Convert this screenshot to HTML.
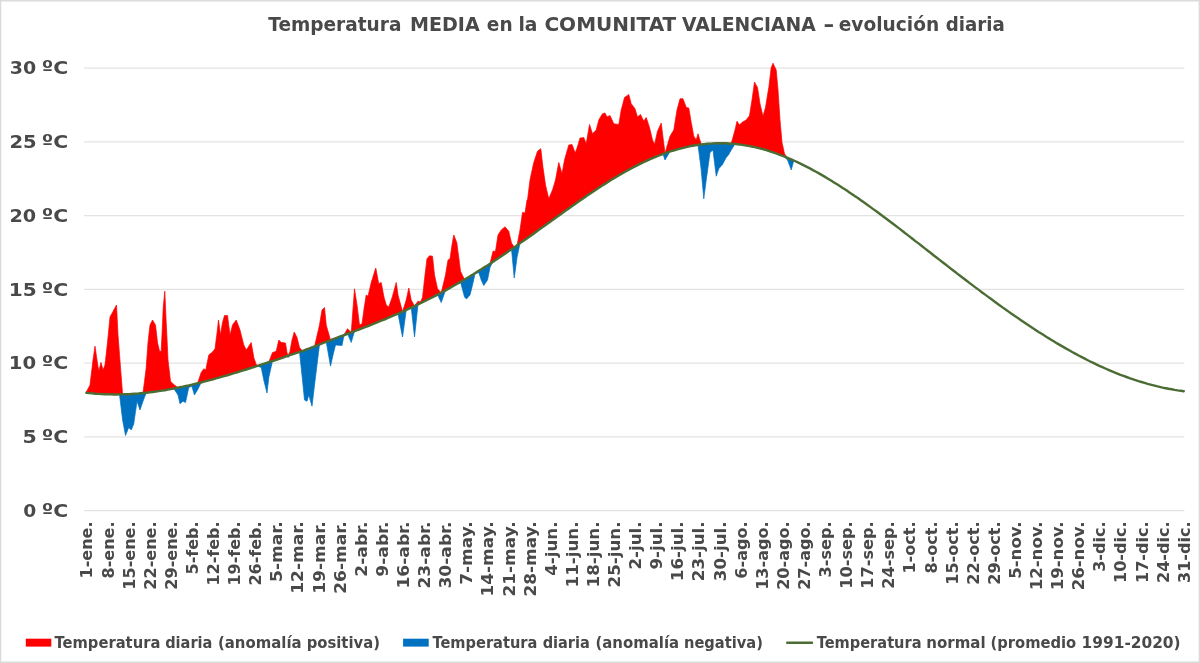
<!DOCTYPE html>
<html lang="es"><head><meta charset="utf-8"><title>Temperatura MEDIA en la COMUNITAT VALENCIANA</title>
<style>
html,body{margin:0;padding:0;background:#fff;}
body{width:1200px;height:663px;overflow:hidden;}
svg{display:block;}
text{font-family:"DejaVu Sans","Liberation Sans",sans-serif;font-weight:bold;fill:#494949;}
</style></head><body>
<svg width="1200" height="663" viewBox="0 0 1200 663">
<rect x="0" y="0" width="1200" height="663" fill="#fff"/>

<line x1="84.2" x2="1184.4" y1="68.1" y2="68.1" stroke="#e3e3e3" stroke-width="1.1"/>
<line x1="84.2" x2="1184.4" y1="141.9" y2="141.9" stroke="#e3e3e3" stroke-width="1.1"/>
<line x1="84.2" x2="1184.4" y1="215.6" y2="215.6" stroke="#e3e3e3" stroke-width="1.1"/>
<line x1="84.2" x2="1184.4" y1="289.4" y2="289.4" stroke="#e3e3e3" stroke-width="1.1"/>
<line x1="84.2" x2="1184.4" y1="363.1" y2="363.1" stroke="#e3e3e3" stroke-width="1.1"/>
<line x1="84.2" x2="1184.4" y1="436.9" y2="436.9" stroke="#e3e3e3" stroke-width="1.1"/>
<line x1="84.2" x2="1184.4" y1="510.6" y2="510.6" stroke="#e3e3e3" stroke-width="1.1"/>
<path d="M86,392.5 87.5,389.7 89,386.9 90,385 90.5,380.8 92,368.3 93,360 93.5,356.6 95,346.2 96.5,356.6 97,360 98,366.4 98.8,371.2 99.5,368.3 101,362.5 102.5,368.1 103,370 104,367.5 105,365 105.5,360.5 107,347 107.5,342.5 108.5,332.3 110,317 111.5,314.2 113,311.4 113.8,310 114.5,308.6 116,305.9 116.5,305 117.5,325 118,335 119,348 119.5,354.5 120.5,367.4 122,386.7 122.6,394.4 123.5,394.4 125,394.3 125.5,394.3 126.5,394.2 128,394.2 128.8,394.1 129.5,394.1 131,394 131.2,394 132.5,393.9 133.8,393.9 134,393.8 135.5,393.7 137,393.6 138.5,393.5 140,393.4 141.5,393.2 143,393.1 144.5,381.3 146,369.5 146.2,367.5 147.5,349.6 148,342.5 149,333.8 150,325 150.5,324 152,321 152.5,320 153.5,321.7 155,324.2 155.5,325 156.5,333.8 157.5,342.5 158,344.7 159.5,351.2 161,351.3 161.2,351.2 162.5,323.9 163.2,307.5 164,299.4 164.8,291.2 165.5,306.9 166.2,322.5 167,338.6 168,360 168.5,364.3 170,377 170.5,381.2 171.5,382.3 173,383.8 173.8,384.5 174.5,385.1 176,386.2 177.5,387.3 178,387.7 179,387.5 180,387.3 180.5,387.2 182,386.9 183,386.7 183.5,386.6 185,386.2 185.5,386.1 186.5,385.9 188,385.6 188.8,385.4 189.5,385.2 191,384.9 191.8,384.7 192.5,384.5 194,384.2 194.5,384 195.5,383.8 197,383.4 197.5,383.3 198.5,380.4 200,376.1 201.2,372.5 201.5,372.1 203,369.9 203.8,368.8 204.5,369.2 205.8,370 206,368.8 207.5,361.3 208.8,355 209,354.8 210.5,353.6 212,352.4 212.5,352 213.5,350.7 215,348.8 216.5,337 216.8,335 218,324.3 218.5,320 219.5,327.5 220.5,335 221,331.9 222.5,322.5 224,317.3 224.5,315.5 225.5,315.5 227,315.5 227.5,315.5 228.5,323.3 230,335 231.5,329 232.5,325 233,324.3 234.5,322.3 236,320.3 236.2,320 237.5,323.3 239,327.3 240,330 240.5,332 242,338 243.5,344 243.8,345 245,347.5 246.2,350 246.5,349.6 248,347.4 249.5,345.1 251,342.9 251.2,342.5 252.5,350 253.8,357.5 254,358.2 255.5,362.4 256.2,364.5 257,365 258,365.7 258.5,365.6 260,365.1 261.2,364.7 261.5,364.6 263,364.1 263.8,363.9 264.5,363.6 266,363.2 267,362.8 267.5,362.7 268.8,362.3 269,361.6 270.5,357.7 272,353.8 272.5,352.5 273.5,352.2 275,351.7 276.2,351.2 276.5,350.1 278,343.4 278.8,340 279.5,340.8 281,342.3 281.2,342.5 282.5,342.6 284,342.8 285.5,343 287,352.5 288,355.9 288.5,354.7 290,351.2 291.5,342.8 292,340 293,336.4 294.2,332 294.5,332.5 296,335.5 297,337.5 297.5,339.5 299,345.5 299.5,347.5 300.5,348.6 302,350.4 302.5,350.9 303.5,350.6 304.5,350.2 305,350 306.5,349.5 307,349.3 308,348.9 308.8,348.7 309.5,348.4 311,347.8 312,347.4 312.5,347.2 314,346.7 314.5,346.5 315.5,342.2 317,335.7 318.5,329.3 319.5,325 320,322 321.5,313 322,310 323,309 324.5,307.5 326,322.5 326.2,325 327.5,329.5 329,334.8 330.5,340.2 332,339.6 333,339.2 333.5,339 335,338.4 335.5,338.2 336.5,337.9 338,337.3 339.5,336.8 341,336.2 342,335.9 342.5,335.7 343.8,335.2 344,334.8 345.5,332.2 347,329.6 347.5,328.8 348.5,329.7 350,331.2 351.2,332.4 351.5,329.1 353,308.9 354.5,288.8 356,298.5 357,305 357.5,309 359,321 359.5,325 360.5,324.5 362,323.8 363.5,312.9 364.2,307.5 365,302.8 366.2,295 366.5,295.2 368,296.2 369.5,289.9 371,283.6 371.2,282.5 372.5,278.5 374,273.6 375.5,268.8 375.8,268 377,274.6 378.5,282.4 378.8,283.8 380,283.1 381.2,282.5 381.5,283.9 383,292.1 383.8,296.2 384.5,298.9 386,304.1 386.2,305 387.5,306 388.8,307 389,306.3 390.5,302 392,297.7 392.5,296.2 393.5,292.6 395,287.1 396.2,282.5 396.5,284.3 398,295 399.5,300.6 401,306.1 402.5,311.7 404,307 405.5,302.3 406.2,300 407,296.4 408.5,289.2 408.8,288 410,294 411.2,300 411.5,300.5 413,303.3 414.5,306.1 416,304 417.5,301.9 418,301.2 419,301.6 420.5,302 422,298.6 422.5,297.5 423.5,288.5 425,275 426.5,262.8 427,258.8 428,257.6 429.5,255.8 431,256 432.5,256.2 434,270.3 434.5,275 435.5,279.6 437,286.5 437.5,288.8 438.5,289.8 440,291.4 441.2,292.7 441.5,291.6 443,285.4 444.5,279.2 445.5,275 446,272 447.5,263 448,260 449,259.4 450,258.8 450.5,255.3 452,245 453.5,236.4 453.8,235 455,238.1 456.5,241.9 456.8,242.5 458,251.9 458.8,257.5 459.5,263.4 460.5,271.2 461,272.3 462.5,275.4 464,278.5 464.5,279.6 465.5,279 466.5,278.4 467,278.1 468.5,277.2 470,276.3 471.5,275.4 472.5,274.7 473,274.4 474.5,273.5 475,273.2 476,272.6 477.5,271.7 478.8,270.9 479,270.7 480.5,269.8 481.2,269.3 482,268.8 483.5,267.9 483.8,267.7 485,266.9 486.5,265.9 487.5,265.3 488,265 489.5,264 490,263.7 491,259.5 492.5,253.3 493,251.2 494,251.3 495.5,251.2 497,241.5 498,235 498.5,234.2 500,231.9 501.2,230 501.5,229.8 503,228.5 504.5,227.2 505,226.8 506,228 507.5,229.8 508.8,231.2 509,232.3 510.5,238.7 511.5,243 512,243.8 513.5,246.1 514.2,247.3 515,246.8 516.5,245.8 517,245.4 518,240.3 519.5,232.6 520,230 521,223 522.5,212.5 524,212.8 525,213 525.5,209.8 527,200 527.5,200 528.5,192 530,180 531.5,173 533,166 533.8,162.5 534.5,160.3 536,155.8 537.5,151.2 539,150.1 540.5,148.9 540.8,148.8 542,159.2 543,167.5 543.5,171 545,181.5 545.5,185 546.5,189.2 548,195.6 548.8,198.8 549.5,197 551,193.5 552.5,190 554,185 555.5,180 557,171.9 558.5,163.8 558.8,162.5 560,166.8 561.5,172 562,173.8 563,168.2 564.5,160 566,154.7 567.5,149.4 568.8,145 569,145 570.5,144.7 572,144.5 573.5,148.4 575,152.3 575.2,153 576.5,149.4 578,145 579.5,139.7 580,138 581,137.9 582.5,137.7 583.8,137.5 584,138.1 585.5,141.9 586.2,143.8 587,139.3 588.5,130.4 589.5,124.5 590,126 591.5,130.7 592.5,133.8 593,133.2 594.5,131.7 596,130.2 596.2,130 597.5,125 598.8,120 599,119.6 600.5,117.1 602,114.6 602.5,113.8 603.5,113.4 605,113 606.5,116 607,117 608,116.5 609.5,115.7 610,115.5 611,117.7 612.5,121 613.8,123.8 614,123.8 615.5,124 617,124.2 618.5,124.5 618.8,124.5 620,117.2 621.2,110 621.5,109 623,103.3 624.5,97.5 626,96.4 627.5,95.4 628.8,94.5 629,95.4 630.5,101 631.2,103.8 632,104.7 633.5,106.7 635,108.8 636.5,113.7 637.5,117 638,116.6 639.5,115.3 640.5,114.5 641,115.5 642.5,118.6 643.8,121.2 644,120.9 645.5,118.6 646.2,117.5 647,119.8 648.5,124.4 649.5,127.5 650,129.6 651.5,135.8 652.5,140 653,141.1 654.5,144.5 656,137.9 657.5,131.2 659,127.9 660.5,124.6 661.2,123 662,129.2 663,137.5 663.5,141.4 665,153.3 666.5,148.2 668,143.1 669.5,137.9 670,136.2 671,134.6 672.5,132.1 673.8,130 674,128.5 675.5,119.2 677,110 678.5,104.4 680,98.8 681.5,98.7 683,98.8 684.5,102.8 686,106.8 686.2,107.5 687.5,107.7 688.8,108 689,109.4 690.5,118.1 691.2,122.5 692,126.6 693.5,134.9 693.8,136.2 695,138.1 696.2,140 696.5,139.1 698,133.8 699.5,138.7 701,143.6 701.2,144.5 702.5,144.3 703.8,144.2 704,144.1 705.5,144 706.2,143.9 707,143.8 708.5,143.7 710,143.6 711.5,143.5 713,143.4 714.5,143.4 716,143.3 716.2,143.3 717.5,143.3 718.8,143.2 719,143.2 720.5,143.2 722,143.3 722.5,143.3 723.5,143.3 725,143.3 726.2,143.4 726.5,143.4 728,143.4 728.8,143.5 729.5,143.5 731,143.6 731.2,143.6 732.5,139.1 734,133.6 735,130 735.5,127.8 737,121.2 738.5,123.5 739.5,125 740,124.5 741.5,123 742.5,122 743,121.7 744.5,120.9 746,120.1 746.2,120 747.5,118.3 749,116.2 749.5,115.5 750.5,109.3 752,100 753.5,89.2 754.5,82 755,82.9 756.5,85.7 757.5,87.5 758,90.7 759.5,100.5 760,103.8 761,107.9 762.5,114.2 763,116.2 764,112.7 765.5,107.5 767,98.3 768.5,89 768.8,87.5 770,77.5 771.2,67.5 771.5,66.9 773,63.2 774.5,66.4 776,69.5 776.2,70 777.5,84.3 778,90 779,105 780,120 780.5,125.6 782,142.5 783.5,149.2 784.5,153.8 785,154.4 786.5,156.5 787.5,157.8 788,158 789.5,158.7 791,159.3 791.2,159.4 792.5,159.7 793.8,160 L793.8,160.5 792.5,160 791.2,159.4 791,159.3 789.5,158.7 788,158 787.5,157.8 786.5,157.4 785,156.8 784.5,156.6 783.5,156.2 782,155.6 780.5,155 780,154.8 779,154.5 778,154.1 777.5,153.9 776.2,153.5 776,153.4 774.5,152.9 773,152.3 771.5,151.8 771.2,151.8 770,151.4 768.8,151 768.5,150.9 767,150.4 765.5,150 764,149.5 763,149.3 762.5,149.1 761,148.7 760,148.5 759.5,148.3 758,148 757.5,147.8 756.5,147.6 755,147.2 754.5,147.1 753.5,146.9 752,146.6 750.5,146.3 749.5,146.1 749,146 747.5,145.7 746.2,145.5 746,145.5 744.5,145.2 743,145 742.5,144.9 741.5,144.8 740,144.5 739.5,144.5 738.5,144.4 737,144.2 735.5,144 735,144 734,143.9 732.5,143.7 731.2,143.6 731,143.6 729.5,143.5 728.8,143.5 728,143.4 726.5,143.4 726.2,143.4 725,143.3 723.5,143.3 722.5,143.3 722,143.3 720.5,143.2 719,143.2 718.8,143.2 717.5,143.3 716.2,143.3 716,143.3 714.5,143.4 713,143.4 711.5,143.5 710,143.6 708.5,143.7 707,143.8 706.2,143.9 705.5,144 704,144.1 703.8,144.2 702.5,144.3 701.2,144.5 701,144.5 699.5,144.7 698,144.9 696.5,145.1 696.2,145.2 695,145.4 693.8,145.6 693.5,145.6 692,145.9 691.2,146.1 690.5,146.2 689,146.5 688.8,146.6 687.5,146.8 686.2,147.1 686,147.2 684.5,147.5 683,147.9 681.5,148.2 680,148.6 678.5,149 677,149.5 675.5,149.9 674,150.3 673.8,150.4 672.5,150.8 671,151.3 670,151.6 669.5,151.8 668,152.3 666.5,152.8 665,153.3 663.5,153.8 663,154 662,154.4 661.2,154.7 660.5,155 659,155.6 657.5,156.1 656,156.8 654.5,157.4 653,158 652.5,158.2 651.5,158.6 650,159.3 649.5,159.5 648.5,160 647,160.6 646.2,161 645.5,161.3 644,162 643.8,162.2 642.5,162.8 641,163.5 640.5,163.7 639.5,164.2 638,165 637.5,165.2 636.5,165.7 635,166.5 633.5,167.3 632,168.1 631.2,168.5 630.5,168.9 629,169.7 628.8,169.8 627.5,170.5 626,171.3 624.5,172.2 623,173 621.5,173.9 621.2,174 620,174.7 618.8,175.5 618.5,175.6 617,176.5 615.5,177.4 614,178.3 613.8,178.4 612.5,179.2 611,180.1 610,180.7 609.5,181 608,182 607,182.6 606.5,182.9 605,183.8 603.5,184.8 602.5,185.4 602,185.8 600.5,186.7 599,187.7 598.8,187.9 597.5,188.7 596.2,189.5 596,189.7 594.5,190.7 593,191.7 592.5,192 591.5,192.7 590,193.7 589.5,194 588.5,194.7 587,195.7 586.2,196.2 585.5,196.7 584,197.7 583.8,197.9 582.5,198.8 581,199.8 580,200.5 579.5,200.9 578,201.9 576.5,202.9 575.2,203.8 575,204 573.5,205.1 572,206.1 570.5,207.2 569,208.2 568.8,208.4 567.5,209.3 566,210.4 564.5,211.4 563,212.5 562,213.2 561.5,213.6 560,214.7 558.8,215.6 558.5,215.7 557,216.8 555.5,217.9 554,219 552.5,220 551,221.1 549.5,222.2 548.8,222.7 548,223.3 546.5,224.4 545.5,225.1 545,225.5 543.5,226.5 543,226.9 542,227.6 540.8,228.5 540.5,228.7 539,229.8 537.5,230.8 536,231.9 534.5,233 533.8,233.5 533,234.1 531.5,235.1 530,236.2 528.5,237.3 527.5,238 527,238.4 525.5,239.4 525,239.8 524,240.5 522.5,241.5 521,242.6 520,243.3 519.5,243.6 518,244.7 517,245.4 516.5,245.8 515,246.8 514.2,247.3 513.5,247.8 512,248.9 511.5,249.2 510.5,249.9 509,250.9 508.8,251.1 507.5,252 506,253 505,253.7 504.5,254 503,255 501.5,256.1 501.2,256.2 500,257.1 498.5,258.1 498,258.4 497,259.1 495.5,260.1 494,261.1 493,261.7 492.5,262 491,263 490,263.7 489.5,264 488,265 487.5,265.3 486.5,265.9 485,266.9 483.8,267.7 483.5,267.9 482,268.8 481.2,269.3 480.5,269.8 479,270.7 478.8,270.9 477.5,271.7 476,272.6 475,273.2 474.5,273.5 473,274.4 472.5,274.7 471.5,275.4 470,276.3 468.5,277.2 467,278.1 466.5,278.4 465.5,279 464.5,279.6 464,279.9 462.5,280.7 461,281.6 460.5,281.9 459.5,282.5 458.8,282.9 458,283.4 456.8,284.1 456.5,284.2 455,285.1 453.8,285.8 453.5,285.9 452,286.8 450.5,287.6 450,287.9 449,288.5 448,289 447.5,289.3 446,290.1 445.5,290.4 444.5,290.9 443,291.7 441.5,292.5 441.2,292.7 440,293.3 438.5,294.1 437.5,294.7 437,294.9 435.5,295.7 434.5,296.2 434,296.5 432.5,297.3 431,298 429.5,298.8 428,299.6 427,300.1 426.5,300.3 425,301.1 423.5,301.8 422.5,302.3 422,302.5 420.5,303.3 419,304 418,304.5 417.5,304.7 416,305.4 414.5,306.1 413,306.8 411.5,307.5 411.2,307.7 410,308.2 408.8,308.8 408.5,308.9 407,309.6 406.2,310 405.5,310.3 404,311 402.5,311.7 401,312.3 399.5,313 398,313.7 396.5,314.3 396.2,314.4 395,315 393.5,315.6 392.5,316 392,316.3 390.5,316.9 389,317.5 388.8,317.6 387.5,318.2 386.2,318.7 386,318.8 384.5,319.4 383.8,319.7 383,320 381.5,320.7 381.2,320.8 380,321.3 378.8,321.8 378.5,321.9 377,322.5 375.8,323 375.5,323.1 374,323.7 372.5,324.3 371.2,324.8 371,324.9 369.5,325.5 368,326.1 366.5,326.6 366.2,326.7 365,327.2 364.2,327.5 363.5,327.8 362,328.4 360.5,329 359.5,329.3 359,329.5 357.5,330.1 357,330.3 356,330.7 354.5,331.2 353,331.8 351.5,332.4 351.2,332.4 350,332.9 348.5,333.5 347.5,333.8 347,334 345.5,334.6 344,335.1 343.8,335.2 342.5,335.7 342,335.9 341,336.2 339.5,336.8 338,337.3 336.5,337.9 335.5,338.2 335,338.4 333.5,339 333,339.2 332,339.6 330.5,340.2 329,340.7 327.5,341.3 326.2,341.8 326,341.9 324.5,342.5 323,343.1 322,343.5 321.5,343.7 320,344.3 319.5,344.5 318.5,344.9 317,345.5 315.5,346.1 314.5,346.5 314,346.7 312.5,347.2 312,347.4 311,347.8 309.5,348.4 308.8,348.7 308,348.9 307,349.3 306.5,349.5 305,350 304.5,350.2 303.5,350.6 302.5,350.9 302,351.1 300.5,351.6 299.5,352 299,352.1 297.5,352.7 297,352.8 296,353.2 294.5,353.7 294.2,353.8 293,354.2 292,354.5 291.5,354.7 290,355.2 288.5,355.7 288,355.9 287,356.2 285.5,356.7 284,357.2 282.5,357.7 281.2,358.1 281,358.2 279.5,358.7 278.8,359 278,359.2 276.5,359.7 276.2,359.8 275,360.2 273.5,360.7 272.5,361 272,361.2 270.5,361.7 269,362.2 268.8,362.3 267.5,362.7 267,362.8 266,363.2 264.5,363.6 263.8,363.9 263,364.1 261.5,364.6 261.2,364.7 260,365.1 258.5,365.6 258,365.7 257,366.1 256.2,366.3 255.5,366.5 254,367 253.8,367.1 252.5,367.5 251.2,367.9 251,368 249.5,368.4 248,368.9 246.5,369.4 246.2,369.5 245,369.9 243.8,370.2 243.5,370.3 242,370.8 240.5,371.3 240,371.4 239,371.7 237.5,372.2 236.2,372.6 236,372.6 234.5,373.1 233,373.5 232.5,373.7 231.5,374 230,374.4 228.5,374.9 227.5,375.2 227,375.3 225.5,375.7 224.5,376 224,376.2 222.5,376.6 221,377 220.5,377.2 219.5,377.5 218.5,377.8 218,377.9 216.8,378.2 216.5,378.3 215,378.7 213.5,379.1 212.5,379.4 212,379.6 210.5,380 209,380.4 208.8,380.4 207.5,380.8 206,381.2 205.8,381.2 204.5,381.5 203.8,381.7 203,381.9 201.5,382.3 201.2,382.4 200,382.7 198.5,383.1 197.5,383.3 197,383.4 195.5,383.8 194.5,384 194,384.2 192.5,384.5 191.8,384.7 191,384.9 189.5,385.2 188.8,385.4 188,385.6 186.5,385.9 185.5,386.1 185,386.2 183.5,386.6 183,386.7 182,386.9 180.5,387.2 180,387.3 179,387.5 178,387.7 177.5,387.8 176,388.1 174.5,388.4 173.8,388.5 173,388.7 171.5,389 170.5,389.2 170,389.2 168.5,389.5 168,389.6 167,389.8 166.2,389.9 165.5,390 164.8,390.2 164,390.3 163.2,390.4 162.5,390.5 161.2,390.7 161,390.8 159.5,391 158,391.2 157.5,391.3 156.5,391.4 155.5,391.6 155,391.7 153.5,391.9 152.5,392 152,392.1 150.5,392.2 150,392.3 149,392.4 148,392.5 147.5,392.6 146.2,392.7 146,392.8 144.5,392.9 143,393.1 141.5,393.2 140,393.4 138.5,393.5 137,393.6 135.5,393.7 134,393.8 133.8,393.9 132.5,393.9 131.2,394 131,394 129.5,394.1 128.8,394.1 128,394.2 126.5,394.2 125.5,394.3 125,394.3 123.5,394.4 122.6,394.4 122,394.4 120.5,394.4 119.5,394.4 119,394.4 118,394.5 117.5,394.5 116.5,394.5 116,394.5 114.5,394.5 113.8,394.5 113,394.5 111.5,394.4 110,394.4 108.5,394.4 107.5,394.3 107,394.3 105.5,394.3 105,394.3 104,394.2 103,394.2 102.5,394.1 101,394.1 99.5,394 98.8,393.9 98,393.9 97,393.8 96.5,393.8 95,393.6 93.5,393.5 93,393.5 92,393.4 90.5,393.2 90,393.2 89,393.1 87.5,392.9 86,392.7Z" fill="#ff0000" stroke="#ff0000" stroke-width="0.7" stroke-linejoin="miter" stroke-miterlimit="8"/>
<path d="M86,392.7 87.5,392.9 89,393.1 90,393.2 90.5,393.2 92,393.4 93,393.5 93.5,393.5 95,393.6 96.5,393.8 97,393.8 98,393.9 98.8,393.9 99.5,394 101,394.1 102.5,394.1 103,394.2 104,394.2 105,394.3 105.5,394.3 107,394.3 107.5,394.3 108.5,394.4 110,394.4 111.5,394.4 113,394.5 113.8,394.5 114.5,394.5 116,394.5 116.5,394.5 117.5,394.5 118,394.5 119,394.4 119.5,394.4 120.5,402.7 122,415.1 122.6,420 123.5,424.8 125,432.8 125.5,435.5 126.5,433 128,429.3 128.8,427.5 129.5,428.3 131,429.8 131.2,430 132.5,426.9 133.8,423.8 134,422 135.5,411.6 137,401.2 138.5,405.6 140,410 141.5,405.6 143,401.2 144.5,397.3 146,393.4 146.2,392.7 147.5,392.6 148,392.5 149,392.4 150,392.3 150.5,392.2 152,392.1 152.5,392 153.5,391.9 155,391.7 155.5,391.6 156.5,391.4 157.5,391.3 158,391.2 159.5,391 161,390.8 161.2,390.7 162.5,390.5 163.2,390.4 164,390.3 164.8,390.2 165.5,390 166.2,389.9 167,389.8 168,389.6 168.5,389.5 170,389.2 170.5,389.2 171.5,389 173,388.7 173.8,388.5 174.5,389.7 176,392 177.5,394.2 178,395 179,399.4 180,403.8 180.5,403.3 182,402.1 183,401.2 183.5,401.5 185,402.3 185.5,402.5 186.5,397.9 188,391 188.8,387.5 189.5,387.2 191,386.6 191.8,386.2 192.5,388.6 194,393.4 194.5,395 195.5,393.3 197,390.8 197.5,390 198.5,388 200,384.9 201.2,382.4 201.5,382.3 203,381.9 203.8,381.7 204.5,381.5 205.8,381.2 206,381.2 207.5,380.8 208.8,380.4 209,380.4 210.5,380 212,379.6 212.5,379.4 213.5,379.1 215,378.7 216.5,378.3 216.8,378.2 218,377.9 218.5,377.8 219.5,377.5 220.5,377.2 221,377 222.5,376.6 224,376.2 224.5,376 225.5,375.7 227,375.3 227.5,375.2 228.5,374.9 230,374.4 231.5,374 232.5,373.7 233,373.5 234.5,373.1 236,372.6 236.2,372.6 237.5,372.2 239,371.7 240,371.4 240.5,371.3 242,370.8 243.5,370.3 243.8,370.2 245,369.9 246.2,369.5 246.5,369.4 248,368.9 249.5,368.4 251,368 251.2,367.9 252.5,367.5 253.8,367.1 254,367 255.5,366.5 256.2,366.3 257,366.3 258,366.2 258.5,366.4 260,367 261.2,367.5 261.5,368.8 263,376.3 263.8,380 264.5,383 266,389 267,393 267.5,388.6 268.8,377.5 269,376.4 270.5,369.8 272,363.2 272.5,361 273.5,360.7 275,360.2 276.2,359.8 276.5,359.7 278,359.2 278.8,359 279.5,358.7 281,358.2 281.2,358.1 282.5,357.7 284,357.2 285.5,356.7 287,356.2 288,357.5 288.5,356.9 290,355.2 291.5,354.7 292,354.5 293,354.2 294.2,353.8 294.5,353.7 296,353.2 297,352.8 297.5,352.7 299,352.1 299.5,352 300.5,361.3 302,375.3 302.5,380 303.5,390 304.5,400 305,400.3 306.5,401 307,401.2 308,397.7 308.8,395 309.5,397.6 311,402.8 312,406.2 312.5,402 314,389.3 314.5,385 315.5,376.9 317,364.8 318.5,352.6 319.5,344.5 320,344.3 321.5,343.7 322,343.5 323,343.1 324.5,342.5 326,341.9 326.2,341.8 327.5,349 329,357.6 330.5,366.2 332,359.5 333,355 333.5,353 335,347 335.5,345 336.5,345.1 338,345.2 339.5,345.3 341,345.4 342,345.5 342.5,342.9 343.8,336.2 344,336.1 345.5,335.1 347,334.2 347.5,333.8 348.5,336.1 350,339.6 351.2,342.5 351.5,341.6 353,336.4 354.5,331.2 356,330.7 357,330.3 357.5,330.1 359,329.5 359.5,329.3 360.5,329 362,328.4 363.5,327.8 364.2,327.5 365,327.2 366.2,326.7 366.5,326.6 368,326.1 369.5,325.5 371,324.9 371.2,324.8 372.5,324.3 374,323.7 375.5,323.1 375.8,323 377,322.5 378.5,321.9 378.8,321.8 380,321.3 381.2,320.8 381.5,320.7 383,320 383.8,319.7 384.5,319.4 386,318.8 386.2,318.7 387.5,318.2 388.8,317.6 389,317.5 390.5,316.9 392,316.3 392.5,316 393.5,315.6 395,315 396.2,314.4 396.5,314.3 398,313.7 399.5,321.4 401,329.2 402.5,337 404,326.2 405.5,315.4 406.2,310 407,309.6 408.5,308.9 408.8,308.8 410,308.2 411.2,307.7 411.5,309.9 413,323.5 414.5,337 416,323.1 417.5,309.1 418,304.5 419,304 420.5,303.3 422,302.5 422.5,302.3 423.5,301.8 425,301.1 426.5,300.3 427,300.1 428,299.6 429.5,298.8 431,298 432.5,297.3 434,296.5 434.5,296.2 435.5,295.7 437,294.9 437.5,294.7 438.5,296.8 440,299.9 441.2,302.5 441.5,301.8 443,297.5 444.5,293.2 445.5,290.4 446,290.1 447.5,289.3 448,289 449,288.5 450,287.9 450.5,287.6 452,286.8 453.5,285.9 453.8,285.8 455,285.1 456.5,284.2 456.8,284.1 458,283.4 458.8,282.9 459.5,282.5 460.5,281.9 461,283.8 462.5,289.5 464,295.1 464.5,297 465.5,298 466.5,299 467,298.4 468.5,296.7 470,295 471.5,289 472.5,285 473,282.8 474.5,276 475,273.8 476,273.4 477.5,272.9 478.8,272.5 479,273.3 480.5,277.8 481.2,280 482,281.7 483.5,285 483.8,285.5 485,283.7 486.5,281.5 487.5,280 488,277.5 489.5,270 490,267.5 491,265.6 492.5,262.7 493,261.7 494,261.1 495.5,260.1 497,259.1 498,258.4 498.5,258.1 500,257.1 501.2,256.2 501.5,256.1 503,255 504.5,254 505,253.7 506,253 507.5,252 508.8,251.1 509,250.9 510.5,249.9 511.5,249.2 512,254.5 513.5,270.2 514.2,278 515,272.4 516.5,261.2 517,257.5 518,252.8 519.5,245.7 520,243.3 521,242.6 522.5,241.5 524,240.5 525,239.8 525.5,239.4 527,238.4 527.5,238 528.5,237.3 530,236.2 531.5,235.1 533,234.1 533.8,233.5 534.5,233 536,231.9 537.5,230.8 539,229.8 540.5,228.7 540.8,228.5 542,227.6 543,226.9 543.5,226.5 545,225.5 545.5,225.1 546.5,224.4 548,223.3 548.8,222.7 549.5,222.2 551,221.1 552.5,220 554,219 555.5,217.9 557,216.8 558.5,215.7 558.8,215.6 560,214.7 561.5,213.6 562,213.2 563,212.5 564.5,211.4 566,210.4 567.5,209.3 568.8,208.4 569,208.2 570.5,207.2 572,206.1 573.5,205.1 575,204 575.2,203.8 576.5,202.9 578,201.9 579.5,200.9 580,200.5 581,199.8 582.5,198.8 583.8,197.9 584,197.7 585.5,196.7 586.2,196.2 587,195.7 588.5,194.7 589.5,194 590,193.7 591.5,192.7 592.5,192 593,191.7 594.5,190.7 596,189.7 596.2,189.5 597.5,188.7 598.8,187.9 599,187.7 600.5,186.7 602,185.8 602.5,185.4 603.5,184.8 605,183.8 606.5,182.9 607,182.6 608,182 609.5,181 610,180.7 611,180.1 612.5,179.2 613.8,178.4 614,178.3 615.5,177.4 617,176.5 618.5,175.6 618.8,175.5 620,174.7 621.2,174 621.5,173.9 623,173 624.5,172.2 626,171.3 627.5,170.5 628.8,169.8 629,169.7 630.5,168.9 631.2,168.5 632,168.1 633.5,167.3 635,166.5 636.5,165.7 637.5,165.2 638,165 639.5,164.2 640.5,163.7 641,163.5 642.5,162.8 643.8,162.2 644,162 645.5,161.3 646.2,161 647,160.6 648.5,160 649.5,159.5 650,159.3 651.5,158.6 652.5,158.2 653,158 654.5,157.4 656,156.8 657.5,156.1 659,155.6 660.5,155 661.2,154.7 662,154.4 663,154 663.5,155.5 665,160 666.5,157.5 668,154.9 669.5,152.4 670,151.6 671,151.3 672.5,150.8 673.8,150.4 674,150.3 675.5,149.9 677,149.5 678.5,149 680,148.6 681.5,148.2 683,147.9 684.5,147.5 686,147.2 686.2,147.1 687.5,146.8 688.8,146.6 689,146.5 690.5,146.2 691.2,146.1 692,145.9 693.5,145.6 693.8,145.6 695,145.4 696.2,145.2 696.5,145.1 698,144.9 699.5,156.5 701,168.1 701.2,170 702.5,184.4 703.8,198.8 704,196.9 705.5,185.6 706.2,180 707,174.5 708.5,163.5 710,152.5 711.5,151.2 713,150 714.5,162.5 716,174.3 716.2,176.2 717.5,172.5 718.8,168.8 719,168.5 720.5,166.8 722,165.1 722.5,164.5 723.5,162.6 725,159.8 726.2,157.5 726.5,157.2 728,155.4 728.8,154.5 729.5,153.1 731,150.4 731.2,150 732.5,148 734,145.6 735,144 735.5,144 737,144.2 738.5,144.4 739.5,144.5 740,144.5 741.5,144.8 742.5,144.9 743,145 744.5,145.2 746,145.5 746.2,145.5 747.5,145.7 749,146 749.5,146.1 750.5,146.3 752,146.6 753.5,146.9 754.5,147.1 755,147.2 756.5,147.6 757.5,147.8 758,148 759.5,148.3 760,148.5 761,148.7 762.5,149.1 763,149.3 764,149.5 765.5,150 767,150.4 768.5,150.9 768.8,151 770,151.4 771.2,151.8 771.5,151.8 773,152.3 774.5,152.9 776,153.4 776.2,153.5 777.5,153.9 778,154.1 779,154.5 780,154.8 780.5,155 782,155.6 783.5,156.2 784.5,156.6 785,157.2 786.5,158.9 787.5,160 788,161.3 789.5,165.3 791,169.3 791.2,170 792.5,165.3 793.8,160.5 L793.8,160.5 792.5,160 791.2,159.4 791,159.3 789.5,158.7 788,158 787.5,157.8 786.5,157.4 785,156.8 784.5,156.6 783.5,156.2 782,155.6 780.5,155 780,154.8 779,154.5 778,154.1 777.5,153.9 776.2,153.5 776,153.4 774.5,152.9 773,152.3 771.5,151.8 771.2,151.8 770,151.4 768.8,151 768.5,150.9 767,150.4 765.5,150 764,149.5 763,149.3 762.5,149.1 761,148.7 760,148.5 759.5,148.3 758,148 757.5,147.8 756.5,147.6 755,147.2 754.5,147.1 753.5,146.9 752,146.6 750.5,146.3 749.5,146.1 749,146 747.5,145.7 746.2,145.5 746,145.5 744.5,145.2 743,145 742.5,144.9 741.5,144.8 740,144.5 739.5,144.5 738.5,144.4 737,144.2 735.5,144 735,144 734,143.9 732.5,143.7 731.2,143.6 731,143.6 729.5,143.5 728.8,143.5 728,143.4 726.5,143.4 726.2,143.4 725,143.3 723.5,143.3 722.5,143.3 722,143.3 720.5,143.2 719,143.2 718.8,143.2 717.5,143.3 716.2,143.3 716,143.3 714.5,143.4 713,143.4 711.5,143.5 710,143.6 708.5,143.7 707,143.8 706.2,143.9 705.5,144 704,144.1 703.8,144.2 702.5,144.3 701.2,144.5 701,144.5 699.5,144.7 698,144.9 696.5,145.1 696.2,145.2 695,145.4 693.8,145.6 693.5,145.6 692,145.9 691.2,146.1 690.5,146.2 689,146.5 688.8,146.6 687.5,146.8 686.2,147.1 686,147.2 684.5,147.5 683,147.9 681.5,148.2 680,148.6 678.5,149 677,149.5 675.5,149.9 674,150.3 673.8,150.4 672.5,150.8 671,151.3 670,151.6 669.5,151.8 668,152.3 666.5,152.8 665,153.3 663.5,153.8 663,154 662,154.4 661.2,154.7 660.5,155 659,155.6 657.5,156.1 656,156.8 654.5,157.4 653,158 652.5,158.2 651.5,158.6 650,159.3 649.5,159.5 648.5,160 647,160.6 646.2,161 645.5,161.3 644,162 643.8,162.2 642.5,162.8 641,163.5 640.5,163.7 639.5,164.2 638,165 637.5,165.2 636.5,165.7 635,166.5 633.5,167.3 632,168.1 631.2,168.5 630.5,168.9 629,169.7 628.8,169.8 627.5,170.5 626,171.3 624.5,172.2 623,173 621.5,173.9 621.2,174 620,174.7 618.8,175.5 618.5,175.6 617,176.5 615.5,177.4 614,178.3 613.8,178.4 612.5,179.2 611,180.1 610,180.7 609.5,181 608,182 607,182.6 606.5,182.9 605,183.8 603.5,184.8 602.5,185.4 602,185.8 600.5,186.7 599,187.7 598.8,187.9 597.5,188.7 596.2,189.5 596,189.7 594.5,190.7 593,191.7 592.5,192 591.5,192.7 590,193.7 589.5,194 588.5,194.7 587,195.7 586.2,196.2 585.5,196.7 584,197.7 583.8,197.9 582.5,198.8 581,199.8 580,200.5 579.5,200.9 578,201.9 576.5,202.9 575.2,203.8 575,204 573.5,205.1 572,206.1 570.5,207.2 569,208.2 568.8,208.4 567.5,209.3 566,210.4 564.5,211.4 563,212.5 562,213.2 561.5,213.6 560,214.7 558.8,215.6 558.5,215.7 557,216.8 555.5,217.9 554,219 552.5,220 551,221.1 549.5,222.2 548.8,222.7 548,223.3 546.5,224.4 545.5,225.1 545,225.5 543.5,226.5 543,226.9 542,227.6 540.8,228.5 540.5,228.7 539,229.8 537.5,230.8 536,231.9 534.5,233 533.8,233.5 533,234.1 531.5,235.1 530,236.2 528.5,237.3 527.5,238 527,238.4 525.5,239.4 525,239.8 524,240.5 522.5,241.5 521,242.6 520,243.3 519.5,243.6 518,244.7 517,245.4 516.5,245.8 515,246.8 514.2,247.3 513.5,247.8 512,248.9 511.5,249.2 510.5,249.9 509,250.9 508.8,251.1 507.5,252 506,253 505,253.7 504.5,254 503,255 501.5,256.1 501.2,256.2 500,257.1 498.5,258.1 498,258.4 497,259.1 495.5,260.1 494,261.1 493,261.7 492.5,262 491,263 490,263.7 489.5,264 488,265 487.5,265.3 486.5,265.9 485,266.9 483.8,267.7 483.5,267.9 482,268.8 481.2,269.3 480.5,269.8 479,270.7 478.8,270.9 477.5,271.7 476,272.6 475,273.2 474.5,273.5 473,274.4 472.5,274.7 471.5,275.4 470,276.3 468.5,277.2 467,278.1 466.5,278.4 465.5,279 464.5,279.6 464,279.9 462.5,280.7 461,281.6 460.5,281.9 459.5,282.5 458.8,282.9 458,283.4 456.8,284.1 456.5,284.2 455,285.1 453.8,285.8 453.5,285.9 452,286.8 450.5,287.6 450,287.9 449,288.5 448,289 447.5,289.3 446,290.1 445.5,290.4 444.5,290.9 443,291.7 441.5,292.5 441.2,292.7 440,293.3 438.5,294.1 437.5,294.7 437,294.9 435.5,295.7 434.5,296.2 434,296.5 432.5,297.3 431,298 429.5,298.8 428,299.6 427,300.1 426.5,300.3 425,301.1 423.5,301.8 422.5,302.3 422,302.5 420.5,303.3 419,304 418,304.5 417.5,304.7 416,305.4 414.5,306.1 413,306.8 411.5,307.5 411.2,307.7 410,308.2 408.8,308.8 408.5,308.9 407,309.6 406.2,310 405.5,310.3 404,311 402.5,311.7 401,312.3 399.5,313 398,313.7 396.5,314.3 396.2,314.4 395,315 393.5,315.6 392.5,316 392,316.3 390.5,316.9 389,317.5 388.8,317.6 387.5,318.2 386.2,318.7 386,318.8 384.5,319.4 383.8,319.7 383,320 381.5,320.7 381.2,320.8 380,321.3 378.8,321.8 378.5,321.9 377,322.5 375.8,323 375.5,323.1 374,323.7 372.5,324.3 371.2,324.8 371,324.9 369.5,325.5 368,326.1 366.5,326.6 366.2,326.7 365,327.2 364.2,327.5 363.5,327.8 362,328.4 360.5,329 359.5,329.3 359,329.5 357.5,330.1 357,330.3 356,330.7 354.5,331.2 353,331.8 351.5,332.4 351.2,332.4 350,332.9 348.5,333.5 347.5,333.8 347,334 345.5,334.6 344,335.1 343.8,335.2 342.5,335.7 342,335.9 341,336.2 339.5,336.8 338,337.3 336.5,337.9 335.5,338.2 335,338.4 333.5,339 333,339.2 332,339.6 330.5,340.2 329,340.7 327.5,341.3 326.2,341.8 326,341.9 324.5,342.5 323,343.1 322,343.5 321.5,343.7 320,344.3 319.5,344.5 318.5,344.9 317,345.5 315.5,346.1 314.5,346.5 314,346.7 312.5,347.2 312,347.4 311,347.8 309.5,348.4 308.8,348.7 308,348.9 307,349.3 306.5,349.5 305,350 304.5,350.2 303.5,350.6 302.5,350.9 302,351.1 300.5,351.6 299.5,352 299,352.1 297.5,352.7 297,352.8 296,353.2 294.5,353.7 294.2,353.8 293,354.2 292,354.5 291.5,354.7 290,355.2 288.5,355.7 288,355.9 287,356.2 285.5,356.7 284,357.2 282.5,357.7 281.2,358.1 281,358.2 279.5,358.7 278.8,359 278,359.2 276.5,359.7 276.2,359.8 275,360.2 273.5,360.7 272.5,361 272,361.2 270.5,361.7 269,362.2 268.8,362.3 267.5,362.7 267,362.8 266,363.2 264.5,363.6 263.8,363.9 263,364.1 261.5,364.6 261.2,364.7 260,365.1 258.5,365.6 258,365.7 257,366.1 256.2,366.3 255.5,366.5 254,367 253.8,367.1 252.5,367.5 251.2,367.9 251,368 249.5,368.4 248,368.9 246.5,369.4 246.2,369.5 245,369.9 243.8,370.2 243.5,370.3 242,370.8 240.5,371.3 240,371.4 239,371.7 237.5,372.2 236.2,372.6 236,372.6 234.5,373.1 233,373.5 232.5,373.7 231.5,374 230,374.4 228.5,374.9 227.5,375.2 227,375.3 225.5,375.7 224.5,376 224,376.2 222.5,376.6 221,377 220.5,377.2 219.5,377.5 218.5,377.8 218,377.9 216.8,378.2 216.5,378.3 215,378.7 213.5,379.1 212.5,379.4 212,379.6 210.5,380 209,380.4 208.8,380.4 207.5,380.8 206,381.2 205.8,381.2 204.5,381.5 203.8,381.7 203,381.9 201.5,382.3 201.2,382.4 200,382.7 198.5,383.1 197.5,383.3 197,383.4 195.5,383.8 194.5,384 194,384.2 192.5,384.5 191.8,384.7 191,384.9 189.5,385.2 188.8,385.4 188,385.6 186.5,385.9 185.5,386.1 185,386.2 183.5,386.6 183,386.7 182,386.9 180.5,387.2 180,387.3 179,387.5 178,387.7 177.5,387.8 176,388.1 174.5,388.4 173.8,388.5 173,388.7 171.5,389 170.5,389.2 170,389.2 168.5,389.5 168,389.6 167,389.8 166.2,389.9 165.5,390 164.8,390.2 164,390.3 163.2,390.4 162.5,390.5 161.2,390.7 161,390.8 159.5,391 158,391.2 157.5,391.3 156.5,391.4 155.5,391.6 155,391.7 153.5,391.9 152.5,392 152,392.1 150.5,392.2 150,392.3 149,392.4 148,392.5 147.5,392.6 146.2,392.7 146,392.8 144.5,392.9 143,393.1 141.5,393.2 140,393.4 138.5,393.5 137,393.6 135.5,393.7 134,393.8 133.8,393.9 132.5,393.9 131.2,394 131,394 129.5,394.1 128.8,394.1 128,394.2 126.5,394.2 125.5,394.3 125,394.3 123.5,394.4 122.6,394.4 122,394.4 120.5,394.4 119.5,394.4 119,394.4 118,394.5 117.5,394.5 116.5,394.5 116,394.5 114.5,394.5 113.8,394.5 113,394.5 111.5,394.4 110,394.4 108.5,394.4 107.5,394.3 107,394.3 105.5,394.3 105,394.3 104,394.2 103,394.2 102.5,394.1 101,394.1 99.5,394 98.8,393.9 98,393.9 97,393.8 96.5,393.8 95,393.6 93.5,393.5 93,393.5 92,393.4 90.5,393.2 90,393.2 89,393.1 87.5,392.9 86,392.7Z" fill="#0070c0" stroke="#0070c0" stroke-width="0.7" stroke-linejoin="miter" stroke-miterlimit="8"/>
<path d="M86.4,392.8 89.4,393.1 92.4,393.4 95.4,393.7 98.5,393.9 101.5,394.1 104.5,394.2 107.5,394.3 110.5,394.4 113.5,394.5 116.5,394.5 119.6,394.4 122.6,394.4 125.6,394.3 128.6,394.2 131.6,394 134.6,393.8 137.6,393.6 140.7,393.3 143.7,393 146.7,392.7 149.7,392.3 152.7,392 155.7,391.5 158.8,391.1 161.8,390.6 164.8,390.2 167.8,389.6 170.8,389.1 173.8,388.5 176.8,387.9 179.9,387.3 182.9,386.7 185.9,386 188.9,385.4 191.9,384.7 194.9,383.9 197.9,383.2 201,382.5 204,381.7 207,380.9 210,380.1 213,379.3 216,378.4 219,377.6 222.1,376.7 225.1,375.9 228.1,375 231.1,374.1 234.1,373.2 237.1,372.3 240.1,371.4 243.2,370.4 246.2,369.5 249.2,368.5 252.2,367.6 255.2,366.6 258.2,365.7 261.3,364.7 264.3,363.7 267.3,362.7 270.3,361.7 273.3,360.8 276.3,359.8 279.3,358.8 282.4,357.8 285.4,356.7 288.4,355.7 291.4,354.7 294.4,353.7 297.4,352.7 300.4,351.6 303.5,350.6 306.5,349.5 309.5,348.4 312.5,347.2 315.5,346.1 318.5,344.9 321.5,343.7 324.6,342.5 327.6,341.3 330.6,340.1 333.6,339 336.6,337.8 339.6,336.7 342.6,335.6 345.7,334.5 348.7,333.4 351.7,332.3 354.7,331.2 357.7,330 360.7,328.9 363.8,327.7 366.8,326.5 369.8,325.4 372.8,324.2 375.8,323 378.8,321.7 381.8,320.5 384.9,319.3 387.9,318 390.9,316.7 393.9,315.4 396.9,314.1 399.9,312.8 402.9,311.5 406,310.1 409,308.7 412,307.3 415,305.9 418,304.5 421,303 424,301.5 427.1,300 430.1,298.5 433.1,297 436.1,295.4 439.1,293.8 442.1,292.2 445.1,290.6 448.2,288.9 451.2,287.2 454.2,285.5 457.2,283.8 460.2,282.1 463.2,280.3 466.3,278.5 469.3,276.7 472.3,274.9 475.3,273 478.3,271.1 481.3,269.3 484.3,267.3 487.4,265.4 490.4,263.4 493.4,261.5 496.4,259.5 499.4,257.5 502.4,255.4 505.4,253.4 508.5,251.3 511.5,249.2 514.5,247.2 517.5,245.1 520.5,242.9 523.5,240.8 526.5,238.7 529.6,236.5 532.6,234.4 535.6,232.2 538.6,230.1 541.6,227.9 544.6,225.7 547.6,223.5 550.7,221.4 553.7,219.2 556.7,217 559.7,214.9 562.7,212.7 565.7,210.6 568.8,208.4 571.8,206.3 574.8,204.2 577.8,202 580.8,199.9 583.8,197.9 586.8,195.8 589.9,193.8 592.9,191.7 595.9,189.7 598.9,187.8 601.9,185.8 604.9,183.9 607.9,182 611,180.1 614,178.3 617,176.5 620,174.7 623,173 626,171.3 629,169.6 632.1,168 635.1,166.4 638.1,164.9 641.1,163.4 644.1,162 647.1,160.6 650.1,159.2 653.2,157.9 656.2,156.7 659.2,155.5 662.2,154.3 665.2,153.2 668.2,152.2 671.3,151.2 674.3,150.3 677.3,149.4 680.3,148.6 683.3,147.8 686.3,147.1 689.3,146.4 692.4,145.8 695.4,145.3 698.4,144.8 701.4,144.4 704.4,144.1 707.4,143.8 710.4,143.6 713.5,143.4 716.5,143.3 719.5,143.2 722.5,143.3 725.5,143.3 728.5,143.5 731.5,143.7 734.6,143.9 737.6,144.2 740.6,144.6 743.6,145.1 746.6,145.6 749.6,146.1 752.6,146.7 755.7,147.4 758.7,148.1 761.7,148.9 764.7,149.7 767.7,150.6 770.7,151.6 773.8,152.6 776.8,153.6 779.8,154.8 782.8,155.9 785.8,157.1 788.8,158.4 791.8,159.7 794.9,161 797.9,162.4 800.9,163.9 803.9,165.4 806.9,166.9 809.9,168.4 812.9,170.1 816,171.7 819,173.4 822,175.1 825,176.9 828,178.7 831,180.5 834,182.4 837.1,184.3 840.1,186.2 843.1,188.2 846.1,190.1 849.1,192.2 852.1,194.2 855.1,196.3 858.2,198.3 861.2,200.5 864.2,202.6 867.2,204.7 870.2,206.9 873.2,209.1 876.3,211.3 879.3,213.5 882.3,215.8 885.3,218 888.3,220.3 891.3,222.5 894.3,224.8 897.4,227.1 900.4,229.4 903.4,231.8 906.4,234.1 909.4,236.4 912.4,238.7 915.4,241.1 918.5,243.4 921.5,245.8 924.5,248.1 927.5,250.5 930.5,252.8 933.5,255.2 936.5,257.5 939.6,259.9 942.6,262.2 945.6,264.5 948.6,266.9 951.6,269.2 954.6,271.5 957.6,273.9 960.7,276.2 963.7,278.5 966.7,280.8 969.7,283.1 972.7,285.4 975.7,287.6 978.8,289.9 981.8,292.2 984.8,294.4 987.8,296.6 990.8,298.8 993.8,301 996.8,303.2 999.9,305.4 1002.9,307.6 1005.9,309.7 1008.9,311.9 1011.9,314 1014.9,316.1 1017.9,318.1 1021,320.2 1024,322.2 1027,324.3 1030,326.3 1033,328.3 1036,330.2 1039,332.2 1042.1,334.1 1045.1,336 1048.1,337.9 1051.1,339.7 1054.1,341.5 1057.1,343.4 1060.1,345.1 1063.2,346.9 1066.2,348.6 1069.2,350.3 1072.2,352 1075.2,353.6 1078.2,355.3 1081.3,356.9 1084.3,358.4 1087.3,360 1090.3,361.5 1093.3,362.9 1096.3,364.4 1099.3,365.8 1102.4,367.2 1105.4,368.5 1108.4,369.8 1111.4,371.1 1114.4,372.4 1117.4,373.6 1120.4,374.8 1123.5,375.9 1126.5,377 1129.5,378.1 1132.5,379.1 1135.5,380.1 1138.5,381.1 1141.5,382 1144.6,382.9 1147.6,383.8 1150.6,384.6 1153.6,385.4 1156.6,386.2 1159.6,386.9 1162.6,387.6 1165.7,388.2 1168.7,388.8 1171.7,389.3 1174.7,389.9 1177.7,390.4 1180.7,390.8 1183.8,391.2" fill="none" stroke="#4b6d34" stroke-width="2.4" stroke-linejoin="round" stroke-linecap="round"/>
<text y="30.9" font-size="19.3"><tspan x="268.21" textLength="133.27" lengthAdjust="spacingAndGlyphs">Temperatura</tspan> <tspan x="409.98" textLength="69.70" lengthAdjust="spacingAndGlyphs">MEDIA</tspan> <tspan x="486.86" textLength="25.79" lengthAdjust="spacingAndGlyphs">en</tspan> <tspan x="518.41" textLength="19.04" lengthAdjust="spacingAndGlyphs">la</tspan> <tspan x="544.40" textLength="131.91" lengthAdjust="spacingAndGlyphs">COMUNITAT</tspan> <tspan x="682.01" textLength="133.85" lengthAdjust="spacingAndGlyphs">VALENCIANA</tspan> <tspan x="823.32" textLength="11.16" lengthAdjust="spacingAndGlyphs">-</tspan> <tspan x="838.76" textLength="100.36" lengthAdjust="spacingAndGlyphs">evolución</tspan> <tspan x="945.68" textLength="59.06" lengthAdjust="spacingAndGlyphs">diaria</tspan></text>
<text y="74.2" font-size="18.5"><tspan x="9.77" textLength="26.42" lengthAdjust="spacingAndGlyphs">30</tspan> <tspan x="41.78" textLength="26.51" lengthAdjust="spacingAndGlyphs">ºC</tspan></text>
<text y="148.1" font-size="18.5"><tspan x="9.43" textLength="27.27" lengthAdjust="spacingAndGlyphs">25</tspan> <tspan x="41.78" textLength="26.51" lengthAdjust="spacingAndGlyphs">ºC</tspan></text>
<text y="221.8" font-size="18.5"><tspan x="9.46" textLength="26.73" lengthAdjust="spacingAndGlyphs">20</tspan> <tspan x="41.78" textLength="26.51" lengthAdjust="spacingAndGlyphs">ºC</tspan></text>
<text y="295.5" font-size="18.5"><tspan x="8.79" textLength="27.95" lengthAdjust="spacingAndGlyphs">15</tspan> <tspan x="41.78" textLength="26.51" lengthAdjust="spacingAndGlyphs">ºC</tspan></text>
<text y="369.2" font-size="18.5"><tspan x="8.84" textLength="27.38" lengthAdjust="spacingAndGlyphs">10</tspan> <tspan x="41.78" textLength="26.51" lengthAdjust="spacingAndGlyphs">ºC</tspan></text>
<text y="443.0" font-size="18.5"><tspan x="22.46" textLength="14.30" lengthAdjust="spacingAndGlyphs">5</tspan> <tspan x="41.78" textLength="26.51" lengthAdjust="spacingAndGlyphs">ºC</tspan></text>
<text y="516.8" font-size="18.5"><tspan x="23.16" textLength="13.00" lengthAdjust="spacingAndGlyphs">0</tspan> <tspan x="41.78" textLength="26.51" lengthAdjust="spacingAndGlyphs">ºC</tspan></text>
<text transform="translate(92.4,521.4) rotate(-90) scale(1.0104,1)" font-size="15.9" text-anchor="end">1-ene.</text>
<text transform="translate(113.5,521.4) rotate(-90) scale(1.0104,1)" font-size="15.9" text-anchor="end">8-ene.</text>
<text transform="translate(134.6,521.4) rotate(-90) scale(1.0104,1)" font-size="15.9" text-anchor="end">15-ene.</text>
<text transform="translate(155.7,521.4) rotate(-90) scale(1.0104,1)" font-size="15.9" text-anchor="end">22-ene.</text>
<text transform="translate(176.8,521.4) rotate(-90) scale(1.0104,1)" font-size="15.9" text-anchor="end">29-ene.</text>
<text transform="translate(197.9,521.4) rotate(-90) scale(1.0056,1)" font-size="15.9" text-anchor="end">5-feb.</text>
<text transform="translate(219.0,521.4) rotate(-90) scale(1.0056,1)" font-size="15.9" text-anchor="end">12-feb.</text>
<text transform="translate(240.1,521.4) rotate(-90) scale(1.0056,1)" font-size="15.9" text-anchor="end">19-feb.</text>
<text transform="translate(261.2,521.4) rotate(-90) scale(1.0056,1)" font-size="15.9" text-anchor="end">26-feb.</text>
<text transform="translate(282.3,521.4) rotate(-90) scale(1.07,1)" font-size="15.9" text-anchor="end">5-mar.</text>
<text transform="translate(303.4,521.4) rotate(-90) scale(1.07,1)" font-size="15.9" text-anchor="end">12-mar.</text>
<text transform="translate(324.5,521.4) rotate(-90) scale(1.07,1)" font-size="15.9" text-anchor="end">19-mar.</text>
<text transform="translate(345.6,521.4) rotate(-90) scale(1.07,1)" font-size="15.9" text-anchor="end">26-mar.</text>
<text transform="translate(366.7,521.4) rotate(-90) scale(1.0758,1)" font-size="15.9" text-anchor="end">2-abr.</text>
<text transform="translate(387.8,521.4) rotate(-90) scale(1.0758,1)" font-size="15.9" text-anchor="end">9-abr.</text>
<text transform="translate(408.9,521.4) rotate(-90) scale(1.0758,1)" font-size="15.9" text-anchor="end">16-abr.</text>
<text transform="translate(430.0,521.4) rotate(-90) scale(1.0758,1)" font-size="15.9" text-anchor="end">23-abr.</text>
<text transform="translate(451.1,521.4) rotate(-90) scale(1.0758,1)" font-size="15.9" text-anchor="end">30-abr.</text>
<text transform="translate(472.3,521.4) rotate(-90) scale(1.0662,1)" font-size="15.9" text-anchor="end">7-may.</text>
<text transform="translate(493.4,521.4) rotate(-90) scale(1.0662,1)" font-size="15.9" text-anchor="end">14-may.</text>
<text transform="translate(514.5,521.4) rotate(-90) scale(1.0662,1)" font-size="15.9" text-anchor="end">21-may.</text>
<text transform="translate(535.6,521.4) rotate(-90) scale(1.0662,1)" font-size="15.9" text-anchor="end">28-may.</text>
<text transform="translate(556.7,521.4) rotate(-90) scale(1.0518,1)" font-size="15.9" text-anchor="end">4-jun.</text>
<text transform="translate(577.8,521.4) rotate(-90) scale(1.0518,1)" font-size="15.9" text-anchor="end">11-jun.</text>
<text transform="translate(598.9,521.4) rotate(-90) scale(1.0518,1)" font-size="15.9" text-anchor="end">18-jun.</text>
<text transform="translate(620.0,521.4) rotate(-90) scale(1.0518,1)" font-size="15.9" text-anchor="end">25-jun.</text>
<text transform="translate(641.1,521.4) rotate(-90) scale(1.0489,1)" font-size="15.9" text-anchor="end">2-jul.</text>
<text transform="translate(662.2,521.4) rotate(-90) scale(1.0489,1)" font-size="15.9" text-anchor="end">9-jul.</text>
<text transform="translate(683.3,521.4) rotate(-90) scale(1.0489,1)" font-size="15.9" text-anchor="end">16-jul.</text>
<text transform="translate(704.4,521.4) rotate(-90) scale(1.0489,1)" font-size="15.9" text-anchor="end">23-jul.</text>
<text transform="translate(725.5,521.4) rotate(-90) scale(1.0489,1)" font-size="15.9" text-anchor="end">30-jul.</text>
<text transform="translate(746.6,521.4) rotate(-90) scale(1.0104,1)" font-size="15.9" text-anchor="end">6-ago.</text>
<text transform="translate(767.7,521.4) rotate(-90) scale(1.0104,1)" font-size="15.9" text-anchor="end">13-ago.</text>
<text transform="translate(788.8,521.4) rotate(-90) scale(1.0104,1)" font-size="15.9" text-anchor="end">20-ago.</text>
<text transform="translate(809.9,521.4) rotate(-90) scale(1.0104,1)" font-size="15.9" text-anchor="end">27-ago.</text>
<text transform="translate(831.0,521.4) rotate(-90) scale(1.0133,1)" font-size="15.9" text-anchor="end">3-sep.</text>
<text transform="translate(852.1,521.4) rotate(-90) scale(1.0133,1)" font-size="15.9" text-anchor="end">10-sep.</text>
<text transform="translate(873.2,521.4) rotate(-90) scale(1.0133,1)" font-size="15.9" text-anchor="end">17-sep.</text>
<text transform="translate(894.3,521.4) rotate(-90) scale(1.0133,1)" font-size="15.9" text-anchor="end">24-sep.</text>
<text transform="translate(915.4,521.4) rotate(-90) scale(1.0104,1)" font-size="15.9" text-anchor="end">1-oct.</text>
<text transform="translate(936.5,521.4) rotate(-90) scale(1.0104,1)" font-size="15.9" text-anchor="end">8-oct.</text>
<text transform="translate(957.6,521.4) rotate(-90) scale(1.0104,1)" font-size="15.9" text-anchor="end">15-oct.</text>
<text transform="translate(978.7,521.4) rotate(-90) scale(1.0104,1)" font-size="15.9" text-anchor="end">22-oct.</text>
<text transform="translate(999.8,521.4) rotate(-90) scale(1.0104,1)" font-size="15.9" text-anchor="end">29-oct.</text>
<text transform="translate(1020.9,521.4) rotate(-90) scale(1.0441,1)" font-size="15.9" text-anchor="end">5-nov.</text>
<text transform="translate(1042.0,521.4) rotate(-90) scale(1.0441,1)" font-size="15.9" text-anchor="end">12-nov.</text>
<text transform="translate(1063.1,521.4) rotate(-90) scale(1.0441,1)" font-size="15.9" text-anchor="end">19-nov.</text>
<text transform="translate(1084.2,521.4) rotate(-90) scale(1.0441,1)" font-size="15.9" text-anchor="end">26-nov.</text>
<text transform="translate(1105.3,521.4) rotate(-90) scale(1.0104,1)" font-size="15.9" text-anchor="end">3-dic.</text>
<text transform="translate(1126.4,521.4) rotate(-90) scale(1.0104,1)" font-size="15.9" text-anchor="end">10-dic.</text>
<text transform="translate(1147.5,521.4) rotate(-90) scale(1.0104,1)" font-size="15.9" text-anchor="end">17-dic.</text>
<text transform="translate(1168.6,521.4) rotate(-90) scale(1.0104,1)" font-size="15.9" text-anchor="end">24-dic.</text>
<text transform="translate(1189.8,521.4) rotate(-90) scale(1.0104,1)" font-size="15.9" text-anchor="end">31-dic.</text>
<rect x="25.8" y="638.7" width="25.5" height="7.9" fill="#ff0000"/>
<text y="647.9" font-size="15.2"><tspan x="54.43" textLength="105.95" lengthAdjust="spacingAndGlyphs">Temperatura</tspan> <tspan x="165.14" textLength="47.31" lengthAdjust="spacingAndGlyphs">diaria</tspan> <tspan x="217.93" textLength="83.63" lengthAdjust="spacingAndGlyphs">(anomalía</tspan> <tspan x="306.64" textLength="73.38" lengthAdjust="spacingAndGlyphs">positiva)</tspan></text>
<rect x="403.1" y="638.7" width="25.6" height="7.9" fill="#0070c0"/>
<text y="647.9" font-size="15.2"><tspan x="432.43" textLength="104.99" lengthAdjust="spacingAndGlyphs">Temperatura</tspan> <tspan x="542.64" textLength="47.26" lengthAdjust="spacingAndGlyphs">diaria</tspan> <tspan x="595.43" textLength="83.63" lengthAdjust="spacingAndGlyphs">(anomalía</tspan> <tspan x="683.95" textLength="79.00" lengthAdjust="spacingAndGlyphs">negativa)</tspan></text>
<line x1="787.2" x2="812" y1="642.8" y2="642.8" stroke="#4b6d34" stroke-width="2.4" stroke-linecap="round"/>
<text y="647.9" font-size="15.2"><tspan x="816.63" textLength="104.94" lengthAdjust="spacingAndGlyphs">Temperatura</tspan> <tspan x="926.22" textLength="59.41" lengthAdjust="spacingAndGlyphs">normal</tspan> <tspan x="990.45" textLength="85.80" lengthAdjust="spacingAndGlyphs">(promedio</tspan> <tspan x="1081.61" textLength="98.95" lengthAdjust="spacingAndGlyphs">1991-2020)</tspan></text>
<rect x="0" y="0" width="1200" height="1.5" fill="#dbdbdb"/>
<rect x="0" y="0" width="1.3" height="663" fill="#dbdbdb"/>
<rect x="1198.6" y="0" width="1.4" height="663" fill="#dbdbdb"/>
<rect x="0" y="661.5" width="1200" height="1.5" fill="#dbdbdb"/>
</svg></body></html>
